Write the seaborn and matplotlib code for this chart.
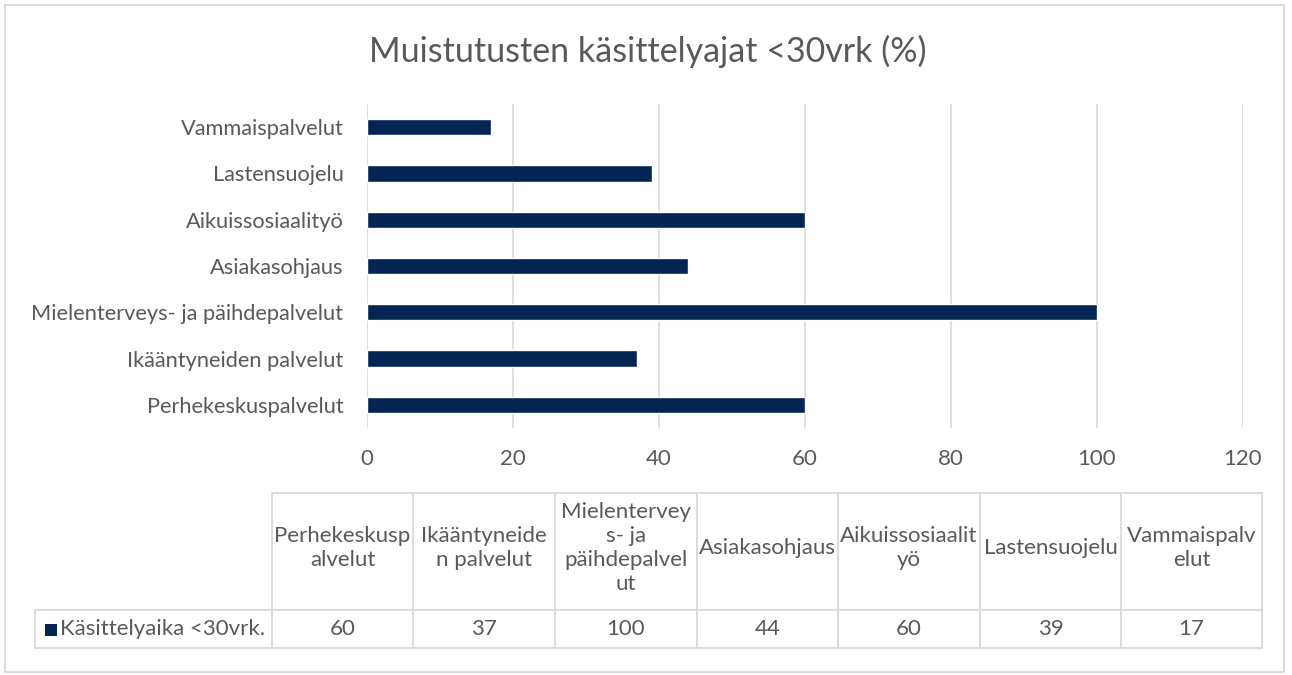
import matplotlib
matplotlib.use("Agg")
import matplotlib.pyplot as plt
from matplotlib.lines import Line2D
from matplotlib.patches import Rectangle
import seaborn as sns
import pandas as pd

# Data
categories = [
    "Perhekeskuspalvelut",
    "Ikääntyneiden palvelut",
    "Mielenterveys- ja päihdepalvelut",
    "Asiakasohjaus",
    "Aikuissosiaalityö",
    "Lastensuojelu",
    "Vammaispalvelut",
]
values = [60, 37, 100, 44, 60, 39, 17]
table_headers = [
    "Perhekeskusp\nalvelut",
    "Ikääntyneide\nn palvelut",
    "Mielentervey\ns- ja\npäihdepalvel\nut",
    "Asiakasohjaus",
    "Aikuissosiaalit\nyö",
    "Lastensuojelu",
    "Vammaispalv\nelut",
]
series_name = "Käsittelyaika <30vrk."
title = "Muistutusten käsittelyajat <30vrk (%)"
x_ticks = [0, 20, 40, 60, 80, 100, 120]

BAR = "#042453"
TXT = "#595959"
GRID = "#d9d9d9"
FS = 16

sns.set_theme(style="white")
plt.rcParams["font.family"] = ["Lato", "DejaVu Sans"]

W, H = 1292, 675
fig = plt.figure(figsize=(W / 100, H / 100), dpi=100)
fig.patch.set_facecolor("white")


def fx(px):
    return px / W


def fy(py):
    return 1 - py / H


# Bar chart area
ax = fig.add_axes([fx(367), fy(428), fx(1243) - fx(367), fy(104) - fy(428)])
df = pd.DataFrame({"cat": categories, "val": values})
sns.barplot(data=df, x="val", y="cat", order=categories[::-1], color=BAR,
            width=0.35, saturation=1, ax=ax, zorder=3)
ax.set_xlim(0, 120)
ax.set_xticks(x_ticks)
ax.set_xlabel("")
ax.set_ylabel("")
ax.grid(axis="x", color=GRID, linewidth=1.2, zorder=0)
for s in ax.spines.values():
    s.set_visible(False)
ax.tick_params(axis="x", length=0, pad=15, labelsize=FS, labelcolor=TXT)
ax.tick_params(axis="y", length=0, pad=17, labelsize=15.7, labelcolor=TXT)

fig.text(fx(648), fy(51), title, ha="center", va="center", fontsize=24.5, color=TXT)

# Data table below the chart
col_edges = [272, 413, 555, 697, 838, 980, 1121, 1262]
top, mid, bot = 493, 610, 648
left = 35


def hline(x0, x1, y):
    fig.add_artist(Line2D([fx(x0), fx(x1)], [fy(y), fy(y)], color=GRID, lw=1.3,
                          transform=fig.transFigure))


def vline(x, y0, y1):
    fig.add_artist(Line2D([fx(x), fx(x)], [fy(y0), fy(y1)], color=GRID, lw=1.3,
                          transform=fig.transFigure))


hline(col_edges[0], col_edges[-1], top)
hline(left, col_edges[-1], mid)
hline(left, col_edges[-1], bot)
for x in col_edges:
    vline(x, top, bot)
vline(left, mid, bot)

for i, (hdr, v) in enumerate(zip(table_headers, values)):
    cx = (col_edges[i] + col_edges[i + 1]) / 2
    fig.text(fx(cx), fy((top + mid) / 2 - 4), hdr, ha="center", va="center",
             fontsize=FS, color=TXT, linespacing=1.25)
    fig.text(fx(cx), fy((mid + bot) / 2), str(v), ha="center", va="center",
             fontsize=FS, color=TXT)

fig.add_artist(Rectangle((fx(45), fy(636)), fx(57) - fx(45), fy(624) - fy(636),
                         facecolor=BAR, edgecolor="none", transform=fig.transFigure))
fig.text(fx(60), fy((mid + bot) / 2), series_name, ha="left", va="center",
         fontsize=FS, color=TXT)

# Outer chart frame
fig.add_artist(Rectangle((fx(5), fy(672)), fx(1284) - fx(5), fy(5) - fy(672),
                         facecolor="none", edgecolor=GRID, lw=1.3,
                         transform=fig.transFigure))

fig.savefig("out.png", dpi=100, facecolor="white")
